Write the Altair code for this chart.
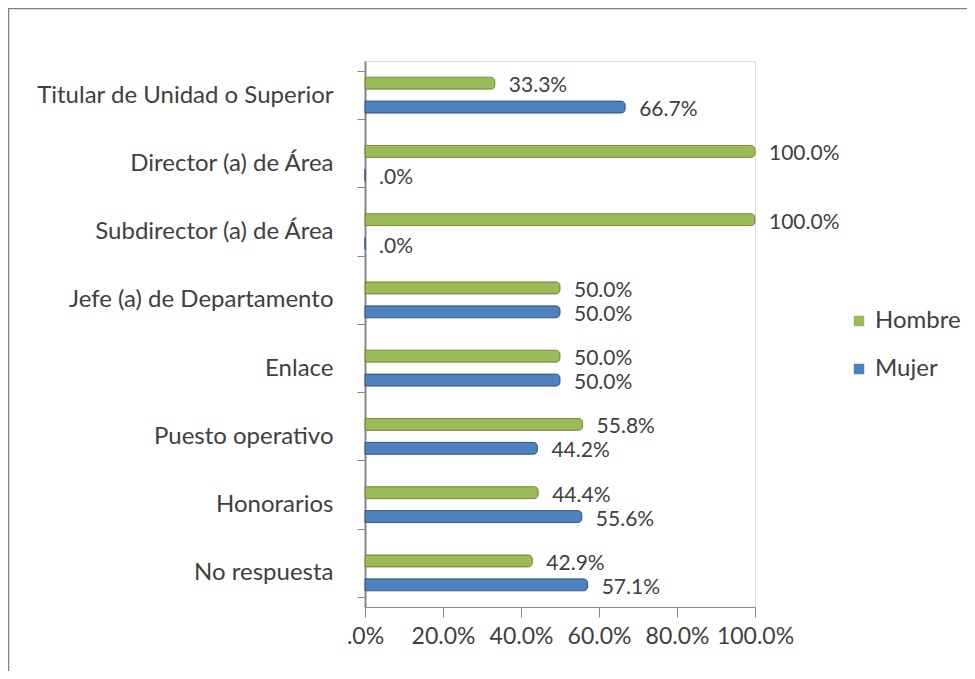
import altair as alt
import pandas as pd

categories = [
    "Titular de Unidad o Superior",
    "Director (a) de Área",
    "Subdirector (a) de Área",
    "Jefe (a) de Departamento",
    "Enlace",
    "Puesto operativo",
    "Honorarios",
    "No respuesta",
]
hombre = [33.3, 100.0, 100.0, 50.0, 50.0, 55.8, 44.4, 42.9]
mujer = [66.7, 0.0, 0.0, 50.0, 50.0, 44.2, 55.6, 57.1]
series = ["Hombre", "Mujer"]
colors = ["#9BBB59", "#4F81BD"]
strokes = ["#76923C", "#385D8A"]
x_ticks = [0, 20, 40, 60, 80, 100]

rows = []
for c, h, m in zip(categories, hombre, mujer):
    rows.append({"cat": c, "serie": "Hombre", "v": h})
    rows.append({"cat": c, "serie": "Mujer", "v": m})
df = pd.DataFrame(rows)

FONT = "Lato"
TXT = "#404040"
W, H = 390, 546

y = alt.Y("cat:N", sort=categories, title=None,
          scale=alt.Scale(paddingInner=0.3, paddingOuter=0.15),
          axis=alt.Axis(tickBand="extent", tickSize=8, labelPadding=24,
                        labelFont=FONT, labelFontSize=24, labelColor=TXT,
                        domainColor="#868686", tickColor="#868686",
                        domainWidth=2, labelLimit=400))
yoff = alt.YOffset("serie:N", sort=series,
                   scale=alt.Scale(paddingInner=0.5, paddingOuter=0.25))
x = alt.X("v:Q", title=None,
          scale=alt.Scale(domain=[0, 100], nice=False),
          axis=alt.Axis(values=x_ticks, grid=False, labelOverlap=False,
                        labelFlush=False,
                        labelExpr="datum.value == 0 ? '.0%' : format(datum.value, '.1f') + '%'",
                        tickSize=10, labelPadding=8, labelFont=FONT,
                        labelFontSize=23, labelColor=TXT,
                        domainColor="#868686", tickColor="#868686"))

base = alt.Chart(df)

bars = base.mark_bar(cornerRadiusEnd=4, strokeWidth=1).encode(
    y=y, yOffset=yoff, x=x,
    color=alt.Color("serie:N", sort=series, title=None,
                    scale=alt.Scale(domain=series, range=colors),
                    legend=alt.Legend(orient="none", legendX=482, legendY=248,
                                      symbolType="square", symbolSize=110,
                                      labelFont=FONT, labelFontSize=24,
                                      labelColor=TXT, rowPadding=24,
                                      labelOffset=4, symbolStrokeWidth=0)),
    stroke=alt.Stroke("serie:N", scale=alt.Scale(domain=series, range=strokes),
                      legend=None),
)

labels = base.transform_calculate(
    lab="datum.v == 0 ? '.0%' : format(datum.v, '.1f') + '%'"
).mark_text(align="left", baseline="middle", dx=14, dy=3,
            font=FONT, fontSize=21, color=TXT).encode(
    y=alt.Y("cat:N", sort=categories), yOffset=alt.YOffset("serie:N", sort=series),
    x="v:Q", text="lab:N")

frame = alt.Chart(pd.DataFrame({"a": [0]})).mark_rect(
    fill=None, stroke="#808080", strokeWidth=2.5).encode(
    x=alt.value(-357), x2=alt.value(700), y=alt.value(-53), y2=alt.value(700))

chart = alt.layer(frame, bars, labels).properties(
    width=W, height=H,
    autosize=alt.AutoSizeParams(type="none"),
    padding={"left": 357, "top": 53, "right": 212, "bottom": 64},
).configure_view(stroke=None).configure(background="white")

chart.save("out.html", embed_options={"renderer": "svg", "actions": False})
